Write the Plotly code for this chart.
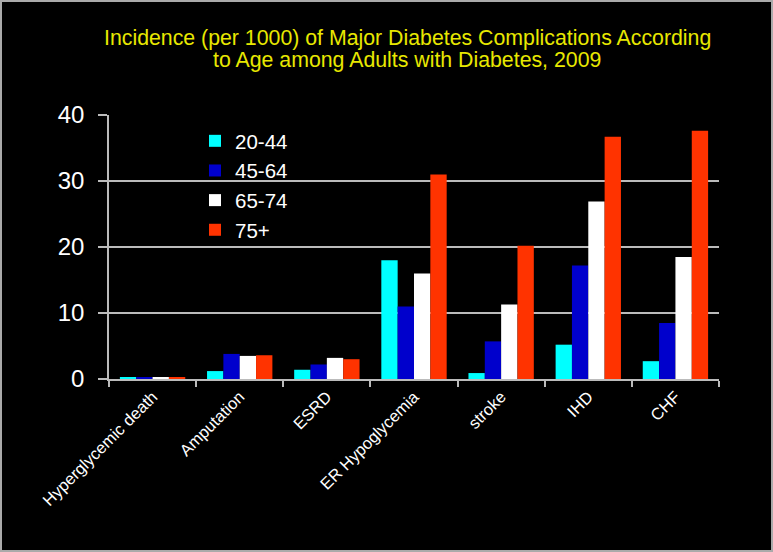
import plotly.graph_objects as go

categories = ["Hyperglycemic death", "Amputation", "ESRD", "ER Hypoglycemia", "stroke", "IHD", "CHF"]
age_20_44 = [0.3, 1.2, 1.4, 18.0, 0.9, 5.2, 2.7]
age_45_64 = [0.2, 3.8, 2.2, 11.0, 5.7, 17.2, 8.5]
age_65_74 = [0.3, 3.5, 3.2, 16.0, 11.3, 26.9, 18.5]
age_75_plus = [0.3, 3.6, 3.0, 31.0, 20.2, 36.7, 37.6]
series_names = ["20-44", "45-64", "65-74", "75+"]
y_ticks = [0, 10, 20, 30, 40]
title_lines = ["Incidence (per 1000) of Major Diabetes Complications According",
               "to Age among Adults with Diabetes, 2009"]

colors = ["#00FFFF", "#0000CC", "#FFFFFF", "#FF3300"]
series = [age_20_44, age_45_64, age_65_74, age_75_plus]

FONT = "Liberation Sans, Arial, sans-serif"

fig = go.Figure()
for name, vals, c in zip(series_names, series, colors):
    fig.add_trace(go.Bar(x=categories, y=vals, name=name, marker=dict(color=c, line=dict(width=0))))

W, H = 773, 552
L, R, T, B = 109, 54, 115, 173
pw = W - L - R
ph = H - T - B

def px_x(p):
    return (p - L) / pw

def px_y(p):
    return (H - B - p) / ph

annotations = []
for line, ypx in zip(title_lines, [38, 60]):
    annotations.append(dict(
        text=line, xref="paper", yref="paper", x=px_x(407), y=px_y(ypx),
        xanchor="center", yanchor="middle", showarrow=False,
        font=dict(family=FONT, size=21.3, color="#E8E800"),
    ))

fig.update_layout(
    width=W, height=H,
    margin=dict(l=L, r=R, t=T, b=B, pad=0),
    paper_bgcolor="black", plot_bgcolor="black",
    barmode="group", bargap=0.25, bargroupgap=0,
    annotations=annotations,
    legend=dict(
        x=px_x(195), y=px_y(121), xanchor="left", yanchor="top",
        bgcolor="rgba(0,0,0,0)", font=dict(family=FONT, size=20.5, color="white"),
        tracegroupgap=0, itemwidth=30,
    ),
    showlegend=True,
    xaxis=dict(
        showgrid=False, showline=True, linecolor="#BBBBBB", linewidth=1.5,
        ticks="outside", tickson="boundaries", ticklen=6, tickcolor="#BBBBBB", tickwidth=1.5,
        tickangle=-45, tickfont=dict(family=FONT, size=16.5, color="white"),
    ),
    yaxis=dict(
        range=[0, 40], tickvals=y_ticks, showgrid=True, gridcolor="#BBBBBB", gridwidth=1.5,
        showline=True, linecolor="#BBBBBB", linewidth=1.5, zeroline=False,
        ticks="outside", ticklen=9, tickcolor="#BBBBBB", tickwidth=1.5,
        ticklabelstandoff=9,
        tickfont=dict(family=FONT, size=24, color="white"),
    ),
    shapes=[dict(
        type="rect", xref="paper", yref="paper",
        x0=px_x(1), x1=px_x(W - 1), y0=px_y(H - 1), y1=px_y(1),
        line=dict(color="#AAAAAA", width=2), fillcolor="rgba(0,0,0,0)", layer="below",
    )],
)

fig.write_html("out.html", config={"displayModeBar": False},
               post_script="document.body.style.margin='0';document.body.style.overflow='hidden';")
